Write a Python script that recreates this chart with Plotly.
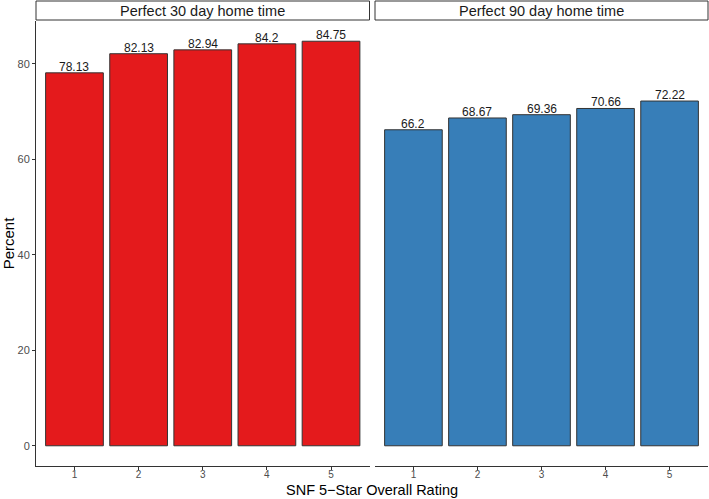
import plotly.graph_objects as go

# Data
ratings = [1, 2, 3, 4, 5]
home30 = [78.13, 82.13, 82.94, 84.2, 84.75]
home90 = [66.2, 68.67, 69.36, 70.66, 72.22]
panel_titles = ['Perfect 30 day home time', 'Perfect 90 day home time']
bar_colors = ['#E41A1C', '#377EB8']

FONT = 'Liberation Sans, Arial, sans-serif'

fig = go.Figure()

for i, (vals, col) in enumerate(zip([home30, home90], bar_colors)):
    xa = 'x' if i == 0 else 'x2'
    fig.add_trace(go.Bar(
        x=ratings, y=vals, xaxis=xa, yaxis='y',
        width=0.9,
        marker=dict(color=col, line=dict(color='#333333', width=1)),
        showlegend=False,
    ))
    # value labels sitting on top of the bars
    for r, v in zip(ratings, vals):
        fig.add_annotation(x=r, y=v, xref=xa, yref='y', text=f'{v:g}',
                           showarrow=False, yanchor='bottom', yshift=-3,
                           font=dict(size=12, color='#1a1a1a', family=FONT))

common_x = dict(
    range=[0.4, 5.6], tickvals=ratings, ticktext=[str(r) for r in ratings],
    showline=True, linecolor='#333333', linewidth=1,
    ticks='outside', ticklen=3, tickcolor='#333333', ticklabelstandoff=-4,
    tickfont=dict(size=10, color='#4D4D4D', family=FONT),
    showgrid=False, zeroline=False, fixedrange=True, automargin=False,
)

d1 = (369.5 - 36) / 672
d2 = (375 - 36) / 672

fig.update_layout(
    width=709, height=499,
    margin=dict(l=36, r=1, t=21, b=33),
    plot_bgcolor='white', paper_bgcolor='white',
    font=dict(family=FONT),
    xaxis=dict(domain=[0, d1], **common_x),
    xaxis2=dict(domain=[d2, 1], anchor='y', **common_x),
    yaxis=dict(
        range=[-4.2375, 88.9875], tickvals=[0, 20, 40, 60, 80],
        showline=True, linecolor='#333333', linewidth=1,
        ticks='outside', ticklen=3, tickcolor='#333333',
        tickfont=dict(size=11, color='#4D4D4D', family=FONT),
        showgrid=False, zeroline=False, fixedrange=True, automargin=False,
        title=dict(text='Percent', font=dict(size=15, color='black'), standoff=4),
    ),
)

# facet strips
strip_y0 = 1 + 1 / 445
strip_y1 = 1 + 20 / 445
for (x0, x1), title in zip([(0, d1), (d2, 1)], panel_titles):
    fig.add_shape(type='rect', xref='paper', yref='paper',
                  x0=x0, x1=x1, y0=strip_y0, y1=strip_y1,
                  line=dict(color='#333333', width=1), fillcolor='white')
    fig.add_annotation(xref='paper', yref='paper', x=(x0 + x1) / 2,
                       y=(strip_y0 + strip_y1) / 2, text=title, showarrow=False,
                       font=dict(size=14.5, color='#1a1a1a', family=FONT),
                       xanchor='center', yanchor='middle')

# x axis title
fig.add_annotation(xref='paper', yref='paper', x=(372 - 36) / 672, y=-32.5 / 445,
                   text='SNF 5\u2212Star Overall Rating', showarrow=False,
                   font=dict(size=14.5, color='black', family=FONT),
                   xanchor='center', yanchor='bottom', borderpad=0)

fig.write_html('out.html', config={'displayModeBar': False},
               post_script="document.body.style.margin='0px';")
